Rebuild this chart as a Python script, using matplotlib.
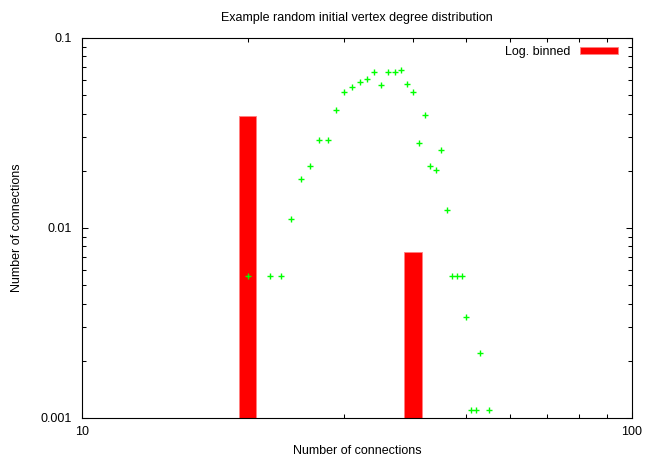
import matplotlib.pyplot as plt
import matplotlib.ticker as mticker
import numpy as np

plt.rcParams['font.family'] = ['Liberation Sans', 'DejaVu Sans']

# vertex degree -> fraction of vertices
degree = [20, 22, 23, 24, 25, 26, 27, 28, 29, 30, 31, 32, 33, 34, 35, 36, 37,
          38, 39, 40, 41, 42, 43, 44, 45, 46, 47, 48, 49, 50, 51, 52, 53, 55]
fraction = [0.0056, 0.0056, 0.0056, 0.0112, 0.0180, 0.0213, 0.0292, 0.0292,
            0.0418, 0.0518, 0.0554, 0.0587, 0.0611, 0.0665, 0.0566, 0.0665,
            0.0665, 0.0679, 0.0575, 0.0518, 0.0281, 0.0393, 0.0213, 0.0202,
            0.0258, 0.0124, 0.0056, 0.0056, 0.0056, 0.0034, 0.0011, 0.0011,
            0.0022, 0.0011]

# logarithmically binned
bin_centre = [20, 40]
bin_value = [0.039, 0.0075]

fig = plt.figure(figsize=(6.45, 4.57), dpi=100)
ax = fig.add_axes([82 / 645, 39 / 457, 550 / 645, 380 / 457])

centre = np.array(bin_centre, dtype=float)
left = centre * 10 ** -0.016
right = centre * 10 ** 0.016
base = 1e-5
ax.bar(left, np.array(bin_value) - base, width=right - left, bottom=base,
       align='edge', color='#ff0000', edgecolor='#ff8080', linewidth=0.6,
       label='Log. binned', zorder=2)
ax.plot(degree, fraction, '+', color='#00ff00', markersize=5,
        markeredgewidth=1.0, zorder=3)

ax.set_xscale('log')
ax.set_yscale('log')
ax.set_xlim(10, 100)
ax.set_ylim(0.001, 0.1)

ax.xaxis.set_major_locator(mticker.FixedLocator([10, 100]))
ax.xaxis.set_major_formatter(mticker.FixedFormatter(['10', '100']))
ax.xaxis.set_minor_locator(mticker.LogLocator(base=10, subs=np.arange(2, 10)))
ax.xaxis.set_minor_formatter(mticker.NullFormatter())
ax.yaxis.set_major_locator(mticker.FixedLocator([0.001, 0.01, 0.1]))
ax.yaxis.set_major_formatter(mticker.FixedFormatter(['0.001', '0.01', '0.1']))
ax.yaxis.set_minor_locator(mticker.LogLocator(base=10, subs=np.arange(2, 10)))
ax.yaxis.set_minor_formatter(mticker.NullFormatter())

ax.tick_params(which='both', direction='in', top=True, right=True,
               width=0.75, labelsize=9)
ax.tick_params(which='major', length=4.5)
ax.tick_params(which='minor', length=3)
ax.tick_params(axis='y', which='major', pad=7)
ax.tick_params(axis='x', which='major', pad=6)
for s in ax.spines.values():
    s.set_linewidth(0.8)

ax.set_xlabel('Number of connections', fontsize=9, labelpad=5)
ax.set_ylabel('Number of connections', fontsize=9, labelpad=13)
fig.text(357 / 645, 1 - 18 / 457,
         'Example random initial vertex degree distribution',
         ha='center', va='center', fontsize=9)

ax.legend(loc='upper right', bbox_to_anchor=(1 - 7 / 550, 1),
          frameon=False, markerfirst=False, fontsize=9,
          handlelength=3.0, handleheight=0.5,
          borderaxespad=0.2, handletextpad=0.8)

fig.savefig('out.png', dpi=100)
